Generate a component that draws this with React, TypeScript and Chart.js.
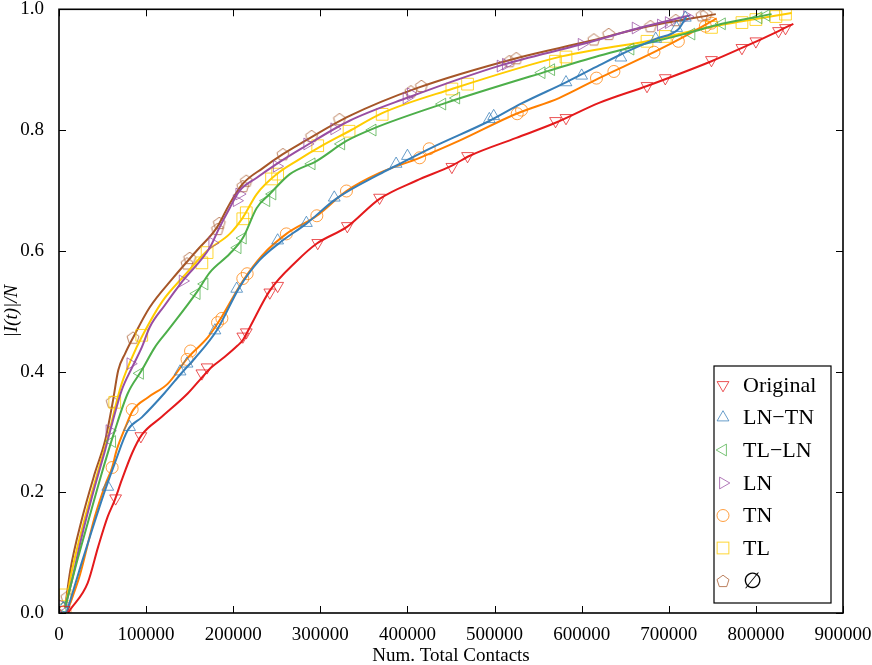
import React, { useEffect, useRef } from 'react';
import { Chart, registerables } from 'chart.js';

Chart.register(...registerables);

const xTicks = [0, 100000, 200000, 300000, 400000, 500000, 600000, 700000, 800000, 900000];
const yTicks = [0, 0.2, 0.4, 0.6, 0.8, 1.0];
const seriesNames = ['Original', 'LN\u2212TN', 'TL\u2212LN', 'LN', 'TN', 'TL', '\u2205'];
const seriesColors = ['#e41a1c', '#377eb8', '#4daf4a', '#984ea3', '#ff7f00', '#ffcc00', '#a65628'];
const markerColors = ['rgba(228,26,28,0.75)', 'rgba(55,126,184,0.75)', 'rgba(77,175,74,0.75)', 'rgba(152,78,163,0.75)', 'rgba(255,127,0,0.75)', 'rgba(255,204,0,0.8)', 'rgba(166,86,40,0.75)'];

const originalCurve = [[10300, 0], [12600, 0.005], [33000, 0.05], [45000, 0.11], [56000, 0.16], [64000, 0.187], [72000, 0.22], [84000, 0.265], [95000, 0.295], [118000, 0.325], [148000, 0.364], [164000, 0.39], [175000, 0.407], [190000, 0.424], [205000, 0.443], [211000, 0.452], [219000, 0.473], [242000, 0.534], [273000, 0.583], [296000, 0.612], [331000, 0.64], [368000, 0.686], [410000, 0.716], [451000, 0.741], [471000, 0.757], [525000, 0.787], [570000, 0.812], [620000, 0.845], [675000, 0.873], [749000, 0.914], [784000, 0.936], [826000, 0.964], [843000, 0.976]];
const originalMarks = [[6000, 0.005], [65000, 0.19], [94000, 0.293], [164000, 0.397], [170000, 0.407], [211000, 0.458], [215000, 0.465], [242000, 0.531], [251000, 0.542], [297000, 0.613], [331000, 0.641], [368000, 0.688], [451000, 0.739], [469000, 0.757], [570000, 0.815], [582000, 0.82], [675000, 0.873], [696000, 0.886], [749000, 0.916], [784000, 0.936], [800000, 0.947], [826000, 0.964], [834000, 0.969]];

const lntnCurve = [[9000, 0.002], [26000, 0.083], [38000, 0.138], [53000, 0.204], [64000, 0.248], [79000, 0.303], [95000, 0.324], [121000, 0.364], [141000, 0.398], [156000, 0.422], [181000, 0.468], [207000, 0.539], [230000, 0.584], [253000, 0.613], [284000, 0.645], [318000, 0.686], [368000, 0.727], [387000, 0.741], [428000, 0.771], [494000, 0.815], [531000, 0.844], [582000, 0.879], [620000, 0.907], [646000, 0.926], [685000, 0.951], [711000, 0.967], [720000, 0.987]];
const lntnMarks = [[5000, 0.008], [56000, 0.209], [81000, 0.308], [139000, 0.4], [147000, 0.413], [179000, 0.468], [204000, 0.537], [251000, 0.617], [284000, 0.646], [316000, 0.688], [387000, 0.744], [400000, 0.757], [494000, 0.818], [499000, 0.823], [582000, 0.879], [600000, 0.89], [645000, 0.92], [685000, 0.951], [709000, 0.969], [719000, 0.986]];

const tllnCurve = [[7000, 0.009], [18000, 0.071], [33000, 0.149], [49000, 0.231], [64000, 0.302], [79000, 0.364], [95000, 0.402], [110000, 0.44], [125000, 0.468], [158000, 0.531], [173000, 0.564], [196000, 0.595], [211000, 0.621], [227000, 0.671], [242000, 0.694], [265000, 0.727], [296000, 0.749], [330000, 0.782], [360000, 0.802], [440000, 0.843], [562000, 0.898], [620000, 0.923], [654000, 0.936], [723000, 0.961], [761000, 0.976], [818000, 0.992]];
const tllnMarks = [[4000, 0.01], [61000, 0.284], [93000, 0.397], [158000, 0.529], [167000, 0.545], [205000, 0.605], [211000, 0.621], [238000, 0.683], [245000, 0.694], [290000, 0.744], [324000, 0.777], [360000, 0.8], [440000, 0.843], [456000, 0.853], [554000, 0.895], [565000, 0.9], [656000, 0.934], [726000, 0.959], [761000, 0.976], [803000, 0.986], [812000, 0.99]];

const lnCurve = [[7000, 0.009], [15000, 0.055], [26000, 0.126], [41000, 0.209], [53000, 0.27], [61000, 0.314], [72000, 0.369], [84000, 0.407], [95000, 0.44], [104000, 0.473], [121000, 0.509], [142000, 0.55], [173000, 0.605], [184000, 0.638], [196000, 0.671], [207000, 0.699], [227000, 0.721], [250000, 0.744], [279000, 0.77], [333000, 0.815], [399000, 0.853], [509000, 0.908], [600000, 0.942], [666000, 0.969], [725000, 0.99]];
const lnMarks = [[4000, 0.012], [58000, 0.302], [82000, 0.413], [142000, 0.55], [176000, 0.613], [204000, 0.683], [207000, 0.694], [250000, 0.74], [285000, 0.777], [316000, 0.802], [399000, 0.853], [404000, 0.86], [507000, 0.906], [513000, 0.909], [600000, 0.942], [662000, 0.969], [691000, 0.974], [700000, 0.978], [721000, 0.988]];

const tnCurve = [[10000, 0.005], [24000, 0.063], [41000, 0.159], [53000, 0.212], [61000, 0.241], [66000, 0.269], [76000, 0.307], [85000, 0.336], [102000, 0.357], [125000, 0.38], [148000, 0.423], [171000, 0.457], [184000, 0.484], [211000, 0.55], [233000, 0.592], [261000, 0.628], [296000, 0.658], [330000, 0.699], [368000, 0.729], [414000, 0.754], [459000, 0.782], [525000, 0.827], [574000, 0.853], [620000, 0.886], [683000, 0.929], [723000, 0.959], [755000, 0.985]];
const tnMarks = [[7000, 0.003], [61000, 0.241], [84000, 0.337], [147000, 0.42], [151000, 0.434], [182000, 0.481], [187000, 0.488], [211000, 0.554], [216000, 0.562], [261000, 0.628], [296000, 0.658], [330000, 0.699], [414000, 0.754], [425000, 0.769], [526000, 0.827], [531000, 0.833], [617000, 0.886], [637000, 0.897], [683000, 0.929], [711000, 0.947], [742000, 0.972], [749000, 0.977]];

const tlCurve = [[7000, 0.009], [15000, 0.071], [30000, 0.159], [45000, 0.236], [56000, 0.291], [66000, 0.349], [72000, 0.38], [84000, 0.424], [96000, 0.46], [119000, 0.517], [144000, 0.559], [170000, 0.6], [196000, 0.628], [211000, 0.655], [227000, 0.694], [250000, 0.727], [273000, 0.749], [302000, 0.774], [333000, 0.798], [371000, 0.828], [451000, 0.868], [577000, 0.922], [620000, 0.934], [675000, 0.947], [742000, 0.969], [784000, 0.98], [841000, 0.994]];
const tlMarks = [[7000, 0.03], [64000, 0.349], [95000, 0.46], [164000, 0.58], [170000, 0.597], [211000, 0.653], [215000, 0.663], [244000, 0.719], [251000, 0.727], [297000, 0.774], [333000, 0.798], [371000, 0.826], [451000, 0.868], [469000, 0.876], [570000, 0.914], [582000, 0.921], [675000, 0.947], [696000, 0.955], [749000, 0.97], [784000, 0.978], [800000, 0.983], [823000, 0.988], [834000, 0.992]];

const emptyCurve = [[7000, 0.009], [13000, 0.071], [26000, 0.154], [41000, 0.231], [53000, 0.286], [62000, 0.352], [68000, 0.402], [76000, 0.43], [85000, 0.456], [104000, 0.506], [131000, 0.555], [158000, 0.6], [181000, 0.638], [196000, 0.678], [211000, 0.711], [234000, 0.737], [257000, 0.76], [279000, 0.779], [333000, 0.823], [410000, 0.869], [525000, 0.919], [608000, 0.947], [677000, 0.972], [754000, 0.992]];
const emptyMarks = [[9000, 0.026], [61000, 0.35], [85000, 0.456], [147000, 0.579], [150000, 0.588], [182000, 0.636], [184000, 0.646], [211000, 0.707], [215000, 0.716], [257000, 0.76], [290000, 0.79], [322000, 0.818], [404000, 0.864], [416000, 0.873], [517000, 0.914], [525000, 0.919], [614000, 0.95], [631000, 0.959], [679000, 0.972], [708000, 0.982], [738000, 0.99], [743000, 0.992]];

const curves = [originalCurve, lntnCurve, tllnCurve, lnCurve, tnCurve, tlCurve, emptyCurve];
const marks = [originalMarks, lntnMarks, tllnMarks, lnMarks, tnMarks, tlMarks, emptyMarks];

const SERIF = "'Liberation Serif', 'DejaVu Serif', serif";

function makePentagon(color: string, r: number): HTMLCanvasElement {
  const c = document.createElement('canvas');
  c.width = 18;
  c.height = 18;
  const g = c.getContext('2d')!;
  g.strokeStyle = color;
  g.lineWidth = 1;
  g.beginPath();
  for (let i = 0; i < 5; i++) {
    const a = -Math.PI / 2 + (i * 2 * Math.PI) / 5;
    const px = 9 + r * Math.cos(a);
    const py = 9.5 + r * Math.sin(a);
    if (i === 0) g.moveTo(px, py);
    else g.lineTo(px, py);
  }
  g.closePath();
  g.stroke();
  return c;
}

export default function App() {
  const ref = useRef<HTMLCanvasElement | null>(null);

  useEffect(() => {
    if (!ref.current) return;
    const pentagon = makePentagon(markerColors[6], 6.3);
    const styles: any[] = ['triangle', 'triangle', 'triangle', 'triangle', 'circle', 'rect', pentagon];
    const rotations = [180, 0, 270, 90, 0, 0, 0];
    const radii = [6.8, 6.8, 6.8, 6.8, 6, 8.3, 6.3];

    const datasets: any[] = [];
    for (let i = curves.length - 1; i >= 0; i--) {
      datasets.push({
        label: seriesNames[i] + ' markers',
        data: marks[i].map(([x, y]) => ({ x, y })),
        showLine: false,
        pointStyle: styles[i],
        pointRotation: rotations[i],
        pointRadius: radii[i],
        pointBorderWidth: 1,
        pointBorderColor: markerColors[i],
        pointBackgroundColor: 'rgba(0,0,0,0)',
        borderColor: markerColors[i],
      });
      datasets.push({
        label: seriesNames[i],
        data: curves[i].map(([x, y]) => ({ x, y })),
        showLine: true,
        borderColor: seriesColors[i],
        borderWidth: 2,
        pointRadius: 0,
        cubicInterpolationMode: 'monotone',
        fill: false,
      });
    }
    datasets.reverse();

    const framePlugin = {
      id: 'frame',
      afterDatasetsDraw(chart: any) {
        const { ctx, chartArea: a, scales } = chart;
        ctx.save();
        ctx.strokeStyle = '#000';
        ctx.lineWidth = 1;
        ctx.beginPath();
        xTicks.forEach((v) => {
          const px = Math.round(scales.x.getPixelForValue(v)) + 0.5;
          ctx.moveTo(px, a.bottom);
          ctx.lineTo(px, a.bottom - 7);
          ctx.moveTo(px, a.top);
          ctx.lineTo(px, a.top + 7);
        });
        yTicks.forEach((v) => {
          const py = Math.round(scales.y.getPixelForValue(v)) + 0.5;
          ctx.moveTo(a.left, py);
          ctx.lineTo(a.left + 7, py);
          ctx.moveTo(a.right, py);
          ctx.lineTo(a.right - 7, py);
        });
        ctx.stroke();
        ctx.lineWidth = 1.6;
        ctx.strokeRect(a.left, a.top, a.right - a.left, a.bottom - a.top);
        ctx.restore();
      },
    };

    const legendPlugin = {
      id: 'boxLegend',
      afterDraw(chart: any) {
        const { ctx } = chart;
        ctx.save();
        const bx = 714, by = 366, bw = 117, bh = 237;
        ctx.fillStyle = '#fff';
        ctx.fillRect(bx, by, bw, bh);
        ctx.strokeStyle = '#000';
        ctx.lineWidth = 1.2;
        ctx.strokeRect(bx, by, bw, bh);
        const ys = [385, 417.5, 450, 483, 515.5, 548, 581];
        ctx.font = `22px ${SERIF}`;
        ctx.textBaseline = 'middle';
        ctx.textAlign = 'left';
        for (let i = 0; i < seriesNames.length; i++) {
          const cx = 723, cy = ys[i];
          ctx.strokeStyle = markerColors[i];
          ctx.lineWidth = 1;
          const st = styles[i];
          if (st === 'triangle') {
            const r = radii[i];
            const rot = (rotations[i] * Math.PI) / 180;
            ctx.beginPath();
            for (let k = 0; k < 3; k++) {
              const ang = -Math.PI / 2 + rot + (k * 2 * Math.PI) / 3;
              const px = cx + r * Math.cos(ang);
              const py = cy + r * Math.sin(ang);
              if (k === 0) ctx.moveTo(px, py);
              else ctx.lineTo(px, py);
            }
            ctx.closePath();
            ctx.stroke();
          } else if (st === 'circle') {
            ctx.beginPath();
            ctx.arc(cx, cy, radii[i], 0, Math.PI * 2);
            ctx.stroke();
          } else if (st === 'rect') {
            const h = radii[i] * Math.SQRT1_2;
            ctx.strokeRect(cx - h, cy - h, 2 * h, 2 * h);
          } else {
            ctx.drawImage(pentagon, cx - 9, cy - 9);
          }
          ctx.fillStyle = '#000';
          ctx.fillText(seriesNames[i], 743, cy + 1);
        }
        ctx.restore();
      },
    };

    const chart = new Chart(ref.current, {
      type: 'scatter',
      data: { datasets },
      plugins: [framePlugin, legendPlugin],
      options: {
        animation: false,
        responsive: false,
        layout: { padding: { top: 8, right: 29, left: 0, bottom: 0 } },
        plugins: { legend: { display: false }, tooltip: { enabled: false } },
        scales: {
          x: {
            type: 'linear',
            min: 0,
            max: 900000,
            afterBuildTicks: (s: any) => {
              s.ticks = xTicks.map((v) => ({ value: v }));
            },
            ticks: {
              callback: (v: any) => String(v),
              font: { family: SERIF, size: 19 },
              color: '#000',
              padding: 3,
              maxRotation: 0,
              autoSkip: false,
            },
            grid: { display: false },
            border: { display: false },
            title: {
              display: true,
              text: 'Num. Total Contacts',
              font: { family: SERIF, size: 19 },
              color: '#000',
              padding: { top: 0, bottom: -2 },
            },
            afterFit: (s: any) => {
              s.height = 52;
              s.paddingLeft = 0;
              s.paddingRight = 0;
            },
          },
          y: {
            type: 'linear',
            min: 0,
            max: 1,
            afterBuildTicks: (s: any) => {
              s.ticks = yTicks.map((v) => ({ value: v }));
            },
            ticks: {
              callback: (v: any) => Number(v).toFixed(1),
              font: { family: SERIF, size: 19 },
              color: '#000',
              padding: 7,
            },
            grid: { display: false },
            border: { display: false },
            title: {
              display: true,
              text: '|I(t)|/N',
              font: { family: SERIF, size: 19, style: 'italic' },
              color: '#000',
              padding: { top: 1, bottom: 0 },
            },
            afterFit: (s: any) => {
              s.width = 59;
              s.paddingTop = 0;
              s.paddingBottom = 0;
            },
          },
        },
      } as any,
    });
    return () => chart.destroy();
  }, []);

  return (
    <div style={{ position: 'fixed', left: 0, top: 0, width: 872, height: 665, background: '#fff' }}>
      <canvas ref={ref} width={872} height={665} style={{ display: 'block', width: 872, height: 665 }} />
    </div>
  );
}
